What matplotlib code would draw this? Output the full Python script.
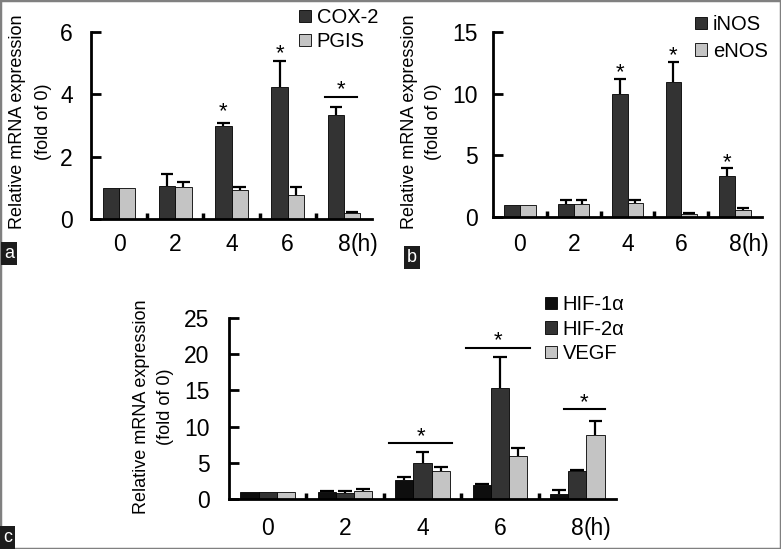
import numpy as np
import matplotlib.pyplot as plt
from matplotlib.patches import Rectangle

plt.rcParams['font.family'] = ['Liberation Sans', 'DejaVu Sans']

hours = ['0', '2', '4', '6', '8']

# panel a
cox2 = [1.0, 1.07, 3.0, 4.22, 3.35]
cox2_err = [0.0, 0.36, 0.07, 0.86, 0.25]
pgis = [1.0, 1.02, 0.92, 0.78, 0.18]
pgis_err = [0.0, 0.17, 0.12, 0.26, 0.03]

# panel b
inos = [1.0, 1.05, 9.95, 10.95, 3.35]
inos_err = [0.0, 0.3, 1.2, 1.6, 0.6]
enos = [1.0, 1.05, 1.15, 0.25, 0.55]
enos_err = [0.0, 0.3, 0.25, 0.05, 0.2]

# panel c
hif1a = [1.0, 1.0, 2.6, 2.0, 0.7]
hif1a_err = [0.0, 0.05, 0.5, 0.05, 0.55]
hif2a = [1.0, 0.85, 5.0, 15.4, 3.85]
hif2a_err = [0.0, 0.25, 1.5, 4.2, 0.15]
vegf = [1.0, 1.1, 3.8, 6.0, 8.9]
vegf_err = [0.0, 0.3, 0.65, 1.1, 1.9]

DARK = '#333333'
LIGHT = '#c4c4c4'
BLACK = '#0e0e0e'
TICK_FS = 16.5

W, H = 781, 549
fig = plt.figure(figsize=(W / 100, H / 100), dpi=100)


def px_axes(x0, x1, ytop, ybot):
    return fig.add_axes([x0 / W, 1 - ybot / H, (x1 - x0) / W, (ybot - ytop) / H])


def draw_bars(ax, series, width):
    x = np.arange(len(hours))
    n = len(series)
    handles = []
    for k, (vals, errs, color, name) in enumerate(series):
        xs = x + (k - (n - 1) / 2) * width
        vals = np.array(vals)
        errs = np.array(errs)
        b = ax.bar(xs, vals, width, color=color, edgecolor='black', linewidth=0.6,
                   label=name, zorder=2)
        handles.append(b)
        m = errs > 0
        ax.vlines(xs[m], vals[m], vals[m] + errs[m], color='black', lw=1.6, zorder=3)
        ax.hlines(vals[m] + errs[m], xs[m] - width * 0.38, xs[m] + width * 0.38,
                  color='black', lw=1.6, zorder=3)
    return handles


def style_axes(ax, ymax, ystep, xpad, ypad):
    ax.set_xlim(-0.5, len(hours) - 0.5)
    ax.set_ylim(0, ymax)
    yt = np.arange(0, ymax + 0.01, ystep)
    ax.set_yticks(yt)
    ax.set_yticklabels([f'{v:g}' for v in yt])
    ax.set_xticks(np.arange(len(hours)))
    ax.set_xticklabels(hours)
    ax.set_xticks(np.arange(len(hours) - 1) + 0.5, minor=True)
    for s in ['top', 'right']:
        ax.spines[s].set_visible(False)
    for s in ['left', 'bottom']:
        ax.spines[s].set_linewidth(2.0)
    ax.tick_params(axis='y', direction='in', length=7, width=2, labelsize=TICK_FS, pad=ypad)
    ax.tick_params(axis='x', which='major', length=0, labelsize=TICK_FS, pad=xpad)
    ax.tick_params(axis='x', which='minor', direction='in', length=4, width=2.5)
    # "(h)" right after the last tick label
    ax.annotate('(h)', xy=(len(hours) - 1, 0), xycoords=('data', 'axes fraction'),
                xytext=(0.278 * TICK_FS, -xpad), textcoords='offset points',
                fontsize=TICK_FS, ha='left', va='top')


def ylabel(xc1, xc2, yc):
    fig.text(xc1 / W, 1 - yc / H, 'Relative mRNA expression', rotation=90,
             fontsize=13, ha='center', va='center')
    fig.text(xc2 / W, 1 - yc / H, '(fold of 0)', rotation=90,
             fontsize=13, ha='center', va='center')


def legend(ax, handles, x, y, spacing):
    ax.legend(handles=handles, loc='upper left', bbox_to_anchor=(x / W, 1 - y / H),
              bbox_transform=fig.transFigure, frameon=False, fontsize=14.5,
              handlelength=0.58, handleheight=0.58, handletextpad=0.3,
              labelspacing=spacing, borderpad=0, borderaxespad=0)


def star(ax, x, y):
    ax.text(x, y, '*', fontsize=16, ha='center', va='center', zorder=4)


def sig_line(ax, x0, x1, y):
    ax.plot([x0, x1], [y, y], color='black', lw=1.5, zorder=4)


# ---- panel a
ax_a = px_axes(91, 372, 32, 219)
wa = 0.29
h_a = draw_bars(ax_a, [(cox2, cox2_err, DARK, 'COX-2'), (pgis, pgis_err, LIGHT, 'PGIS')], wa)
style_axes(ax_a, 6, 2, 10, 13)
star(ax_a, 2 - wa / 2, 3.45)
star(ax_a, 3 - wa / 2, 5.3)
sig_line(ax_a, 3.66, 4.23, 3.92)
star(ax_a, 3.95, 4.15)
legend(ax_a, h_a, 299, 8, 0.25)
ylabel(18, 43, 122)

# ---- panel b
ax_b = px_axes(493, 762, 32, 217)
wb = 0.29
h_b = draw_bars(ax_b, [(inos, inos_err, DARK, 'iNOS'), (enos, enos_err, LIGHT, 'eNOS')], wb)
style_axes(ax_b, 15, 5, 11.5, 11)
star(ax_b, 2 - wb / 2, 11.7)
star(ax_b, 3 - wb / 2, 13.1)
star(ax_b, 4 - wb / 2, 4.4)
legend(ax_b, h_b, 695, 15, 0.38)
ylabel(410, 434, 122)

# ---- panel c
ax_c = px_axes(229, 616, 318, 499)
wc = 0.235
h_c = draw_bars(ax_c, [(hif1a, hif1a_err, BLACK, 'HIF-1α'), (hif2a, hif2a_err, DARK, 'HIF-2α'),
                       (vegf, vegf_err, LIGHT, 'VEGF')], wc)
style_axes(ax_c, 25, 5, 13, 14)
sig_line(ax_c, 2 - 0.43, 2 + 0.38, 7.8)
star(ax_c, 1.98, 8.6)
sig_line(ax_c, 3 - 0.44, 3 + 0.39, 20.9)
star(ax_c, 2.98, 21.9)
sig_line(ax_c, 4 - 0.17, 4 + 0.36, 12.4)
star(ax_c, 4.09, 13.3)
legend(ax_c, h_c, 545, 295, 0.28)
ylabel(141, 166, 407)

# panel tags
for tag, x, y in [('a', 4, 262), ('b', 407, 266), ('c', 3, 546)]:
    fig.text(x / W, 1 - y / H, tag, color='white', fontsize=13, ha='left', va='bottom',
             bbox=dict(boxstyle='square,pad=0.15', fc='#1c1c1c', ec='none'))

fig.patches.append(Rectangle((0, 0), 1, 1, transform=fig.transFigure, fill=False,
                             edgecolor='#808080', lw=2.5))

fig.savefig('out.png', dpi=100)
